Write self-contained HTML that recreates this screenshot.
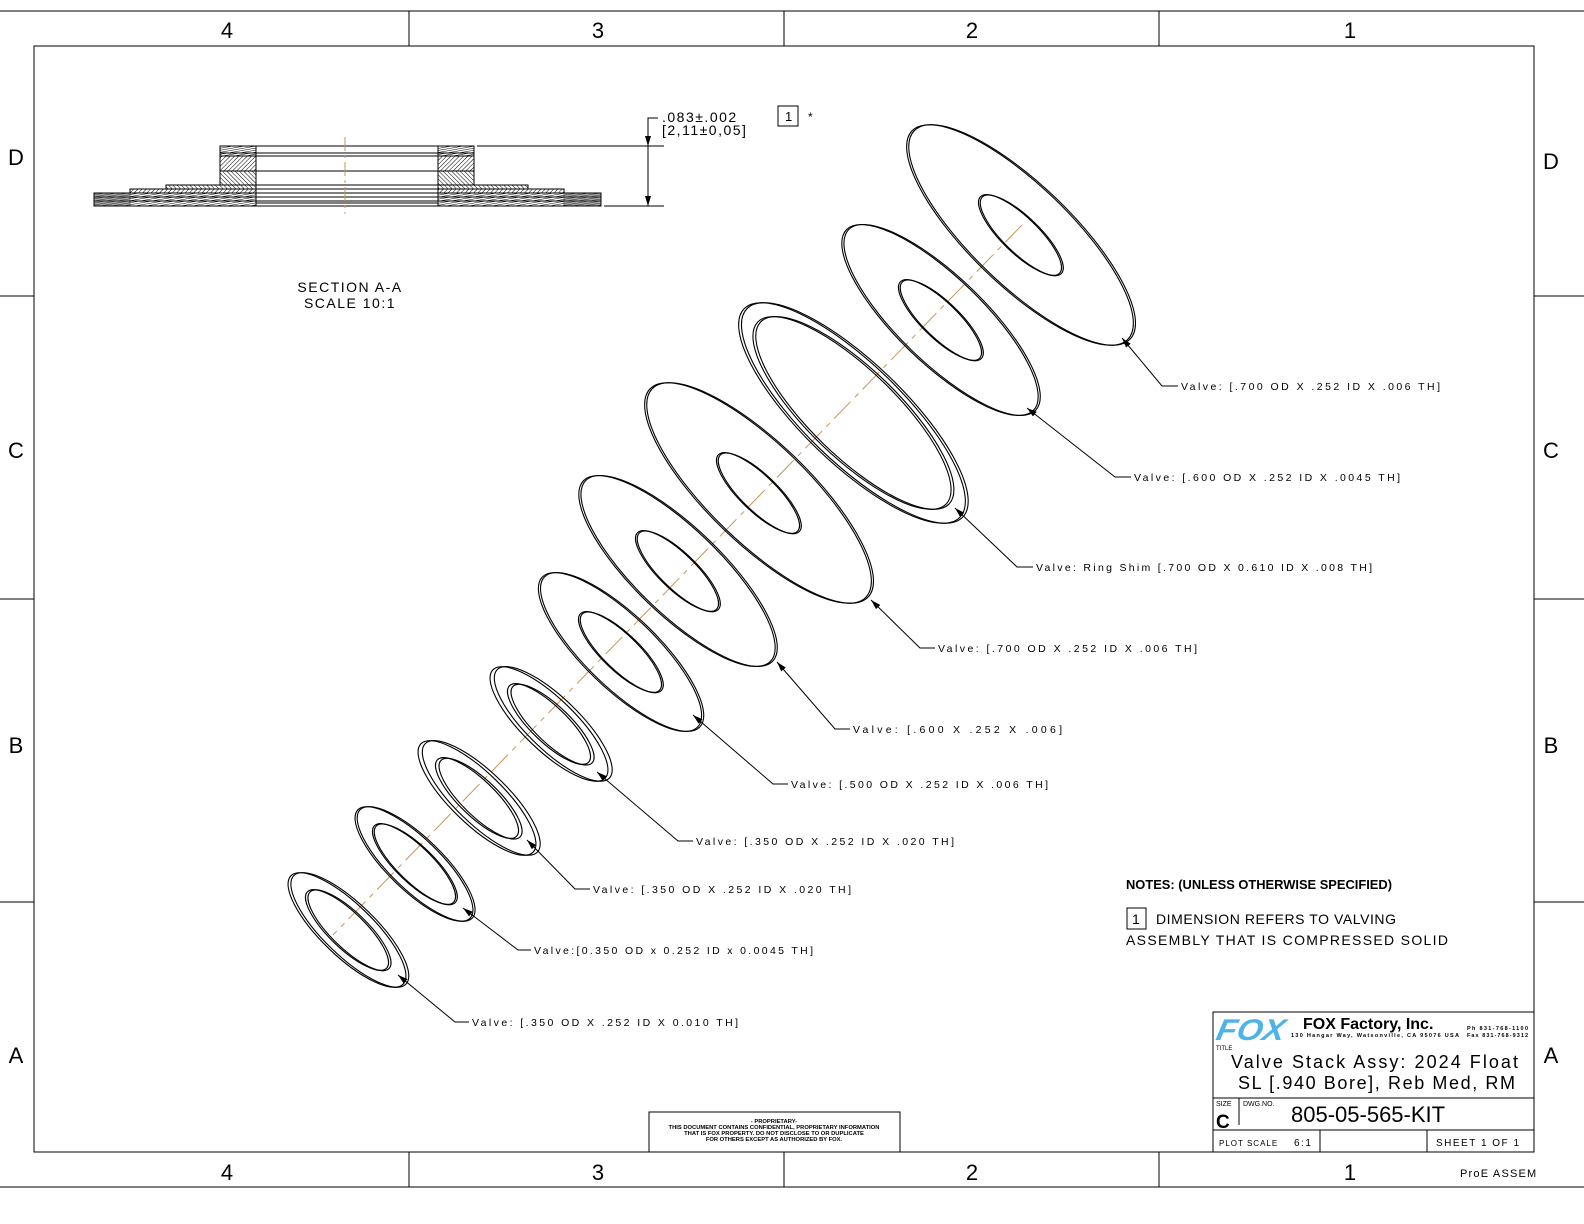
<!DOCTYPE html>
<html><head><meta charset="utf-8"><style>
html,body{margin:0;padding:0;background:#fff;}
svg{display:block;}
text{font-family:"Liberation Sans Narrow","Liberation Sans",sans-serif;fill:#000;}
</style></head><body>
<svg width="1584" height="1224" viewBox="0 0 1584 1224" xmlns="http://www.w3.org/2000/svg">
<defs>
<pattern id="h1" width="3" height="3" patternUnits="userSpaceOnUse" patternTransform="rotate(45)"><line x1="0" y1="0" x2="0" y2="3" stroke="#000" stroke-width="1"/></pattern>
<pattern id="h2" width="3" height="3" patternUnits="userSpaceOnUse" patternTransform="rotate(-45)"><line x1="0" y1="0" x2="0" y2="3" stroke="#000" stroke-width="1"/></pattern>
<pattern id="h3" width="2" height="2" patternUnits="userSpaceOnUse" patternTransform="rotate(80)"><line x1="0" y1="0" x2="0" y2="2" stroke="#000" stroke-width="1"/></pattern>
<marker id="ar" viewBox="0 0 10 6" refX="10" refY="3" markerWidth="10" markerHeight="6" orient="auto" markerUnits="userSpaceOnUse"><path d="M0,0 L10,3 L0,6 z" fill="#000"/></marker>
</defs>

<!-- frame -->
<g stroke="#000" stroke-width="1" fill="none">
<line x1="0" y1="11" x2="1584" y2="11"/>
<line x1="0" y1="1187" x2="1584" y2="1187"/>
<rect x="34" y="46" width="1500" height="1106"/>
<line x1="409" y1="11" x2="409" y2="46"/><line x1="784" y1="11" x2="784" y2="46"/><line x1="1159" y1="11" x2="1159" y2="46"/>
<line x1="409" y1="1152" x2="409" y2="1187"/><line x1="784" y1="1152" x2="784" y2="1187"/><line x1="1159" y1="1152" x2="1159" y2="1187"/>
<line x1="0" y1="296" x2="34" y2="296"/><line x1="0" y1="599" x2="34" y2="599"/><line x1="0" y1="902" x2="34" y2="902"/>
<line x1="1534" y1="296" x2="1584" y2="296"/><line x1="1534" y1="599" x2="1584" y2="599"/><line x1="1534" y1="902" x2="1584" y2="902"/>
</g>
<g font-size="22" text-anchor="middle">
<text x="227" y="38">4</text><text x="598" y="38">3</text><text x="972" y="38">2</text><text x="1350" y="38">1</text>
<text x="227" y="1180">4</text><text x="598" y="1180">3</text><text x="972" y="1180">2</text><text x="1350" y="1180">1</text>
<text x="16" y="165">D</text><text x="16" y="458">C</text><text x="16" y="753">B</text><text x="16" y="1063">A</text>
<text x="1551" y="169">D</text><text x="1551" y="458">C</text><text x="1551" y="753">B</text><text x="1551" y="1063">A</text>
</g>

<!-- Section A-A -->
<g stroke="#000" stroke-width="1">
<rect x="220" y="146" width="36" height="7" fill="url(#h3)"/><rect x="438" y="146" width="36" height="7" fill="url(#h3)"/>
<rect x="220" y="153" width="36" height="3" fill="url(#h3)"/><rect x="438" y="153" width="36" height="3" fill="url(#h3)"/>
<rect x="220" y="156" width="36" height="15" fill="url(#h1)"/><rect x="438" y="156" width="36" height="15" fill="url(#h1)"/>
<rect x="220" y="171" width="36" height="14" fill="url(#h2)"/><rect x="438" y="171" width="36" height="14" fill="url(#h2)"/>
<rect x="166" y="185" width="90" height="4" fill="url(#h2)"/><rect x="438" y="185" width="90" height="4" fill="url(#h2)"/>
<rect x="130" y="189" width="126" height="4" fill="url(#h1)"/><rect x="438" y="189" width="126" height="4" fill="url(#h1)"/>
<rect x="94" y="193" width="162" height="4" fill="url(#h3)"/><rect x="438" y="193" width="163" height="4" fill="url(#h3)"/>
<rect x="94" y="197" width="162" height="4" fill="url(#h3)"/><rect x="438" y="197" width="163" height="4" fill="url(#h3)"/>
<rect x="94" y="201" width="162" height="5" fill="url(#h3)"/><rect x="438" y="201" width="163" height="5" fill="url(#h3)"/>
<rect x="94" y="193" width="36" height="13" fill="#555" opacity="0.5"/><rect x="564" y="193" width="37" height="13" fill="#555" opacity="0.5"/>
<g fill="none">
<line x1="256" y1="146" x2="438" y2="146"/><line x1="256" y1="153" x2="438" y2="153"/><line x1="256" y1="156" x2="438" y2="156"/>
<line x1="256" y1="171" x2="438" y2="171"/><line x1="256" y1="185" x2="438" y2="185"/><line x1="256" y1="189" x2="438" y2="189"/>
<line x1="256" y1="193" x2="438" y2="193"/><line x1="256" y1="197" x2="438" y2="197"/><line x1="256" y1="201" x2="438" y2="201"/>
<line x1="256" y1="203" x2="438" y2="203"/><line x1="256" y1="206" x2="438" y2="206"/>
<line x1="477" y1="146" x2="664" y2="146"/><line x1="604" y1="206" x2="664" y2="206"/>
<line x1="648" y1="146" x2="648" y2="206" marker-start="url(#ar)" marker-end="url(#ar)"/>
<polyline points="648,148 648,118 658,118"/>
<rect x="778" y="106" width="20" height="20"/>
</g>
</g>
<line x1="345" y1="137" x2="345" y2="214" stroke="#c8955a" stroke-width="1" stroke-dasharray="14 4 3 4"/>
<g font-size="14" letter-spacing="1.5">
<text x="662" y="122">.083±.002</text>
<text x="662" y="135">[2,11±0,05]</text>
<text x="785" y="121" font-size="13">1</text>
<text x="808" y="121" font-size="12">*</text>
<text x="350" y="292" text-anchor="middle">SECTION A-A</text>
<text x="350" y="308" text-anchor="middle">SCALE 10:1</text>
</g>

<!-- axis -->
<line x1="1022" y1="225" x2="333" y2="935" stroke="#c8955a" stroke-width="1" stroke-dasharray="24 6 5 6"/>

<!-- shims -->
<g fill="none" stroke="#000" stroke-width="1.1">
<g transform="translate(1020,235) rotate(44)"><ellipse rx="150" ry="50"/><ellipse cx="1.5" cy="-1.5" rx="150" ry="50"/><ellipse rx="55" ry="18"/><ellipse cx="1.5" cy="-1" rx="55" ry="18"/></g>
<g transform="translate(940,320) rotate(44)"><ellipse rx="130" ry="43"/><ellipse cx="1.5" cy="-1.5" rx="130" ry="43"/><ellipse rx="55" ry="18"/><ellipse cx="1.5" cy="-1" rx="55" ry="18"/></g>
<g transform="translate(852,413) rotate(44)"><ellipse rx="150" ry="50"/><ellipse cx="2" cy="-2" rx="150" ry="50"/><ellipse rx="131" ry="44"/><ellipse cx="2" cy="-2" rx="131" ry="44"/></g>
<g transform="translate(758,493) rotate(44)"><ellipse rx="150" ry="50"/><ellipse cx="1.5" cy="-1.5" rx="150" ry="50"/><ellipse rx="55" ry="18"/><ellipse cx="1.5" cy="-1" rx="55" ry="18"/></g>
<g transform="translate(677,571) rotate(44)"><ellipse rx="130" ry="43"/><ellipse cx="1.5" cy="-1.5" rx="130" ry="43"/><ellipse rx="55" ry="18"/><ellipse cx="1.5" cy="-1" rx="55" ry="18"/></g>
<g transform="translate(620,652) rotate(44)"><ellipse rx="108" ry="36"/><ellipse cx="1.5" cy="-1.5" rx="108" ry="36"/><ellipse rx="55" ry="18"/><ellipse cx="1.5" cy="-1" rx="55" ry="18"/></g>
<g transform="translate(549,724) rotate(44)"><ellipse rx="78" ry="26"/><ellipse cx="3" cy="-3" rx="78" ry="26"/><ellipse rx="55" ry="18"/><ellipse cx="3" cy="-2" rx="55" ry="18"/></g>
<g transform="translate(477,798) rotate(44)"><ellipse rx="78" ry="26"/><ellipse cx="3" cy="-3" rx="78" ry="26"/><ellipse rx="55" ry="18"/><ellipse cx="3" cy="-2" rx="55" ry="18"/></g>
<g transform="translate(414,864) rotate(44)"><ellipse rx="78" ry="26"/><ellipse cx="1.5" cy="-1.5" rx="78" ry="26"/><ellipse rx="55" ry="18"/><ellipse cx="1.5" cy="-1" rx="55" ry="18"/></g>
<g transform="translate(347,930) rotate(44)"><ellipse rx="78" ry="26"/><ellipse cx="2" cy="-2" rx="78" ry="26"/><ellipse rx="55" ry="18"/><ellipse cx="2" cy="-1.5" rx="55" ry="18"/></g>
</g>

<!-- leaders -->
<g fill="none" stroke="#000" stroke-width="1">
<polyline points="1178,386 1162,386 1122,338" marker-end="url(#ar)"/>
<polyline points="1131,477 1115,477 1027,408" marker-end="url(#ar)"/>
<polyline points="1033,567 1017,567 955,508" marker-end="url(#ar)"/>
<polyline points="935,648 920,648 871,600" marker-end="url(#ar)"/>
<polyline points="850,729 835,729 777,662" marker-end="url(#ar)"/>
<polyline points="788,784 773,784 693,715" marker-end="url(#ar)"/>
<polyline points="693,841 678,841 597,772" marker-end="url(#ar)"/>
<polyline points="590,889 575,889 527,840" marker-end="url(#ar)"/>
<polyline points="531,950 518,950 463,908" marker-end="url(#ar)"/>
<polyline points="469,1022 455,1022 398,975" marker-end="url(#ar)"/>
</g>
<g font-size="10.5">
<text x="1181" y="390" textLength="259" lengthAdjust="spacing">Valve: [.700 OD X .252 ID X .006 TH]</text>
<text x="1134" y="481" textLength="266" lengthAdjust="spacing">Valve: [.600 OD X .252 ID X .0045 TH]</text>
<text x="1036" y="571" textLength="336" lengthAdjust="spacing">Valve: Ring Shim [.700 OD X 0.610 ID X .008 TH]</text>
<text x="938" y="652" textLength="259" lengthAdjust="spacing">Valve: [.700 OD X .252 ID X .006 TH]</text>
<text x="853" y="733" textLength="209" lengthAdjust="spacing">Valve: [.600 X .252 X .006]</text>
<text x="791" y="788" textLength="257" lengthAdjust="spacing">Valve: [.500 OD X .252 ID X .006 TH]</text>
<text x="696" y="845" textLength="258" lengthAdjust="spacing">Valve: [.350 OD X .252 ID X .020 TH]</text>
<text x="593" y="893" textLength="258" lengthAdjust="spacing">Valve: [.350 OD X .252 ID X .020 TH]</text>
<text x="534" y="954" textLength="279" lengthAdjust="spacing">Valve:[0.350 OD x 0.252 ID x 0.0045 TH]</text>
<text x="472" y="1026" textLength="266" lengthAdjust="spacing">Valve: [.350 OD X .252 ID X 0.010 TH]</text>
</g>

<!-- notes -->
<text x="1126" y="889" font-size="13" font-weight="bold" textLength="266" lengthAdjust="spacingAndGlyphs">NOTES: (UNLESS OTHERWISE SPECIFIED)</text>
<rect x="1127" y="908" width="19" height="21" fill="none" stroke="#000"/>
<text x="1132" y="924" font-size="14">1</text>
<text x="1156" y="924" font-size="14" textLength="240" lengthAdjust="spacing">DIMENSION REFERS TO VALVING</text>
<text x="1126" y="945" font-size="14" textLength="322" lengthAdjust="spacing">ASSEMBLY THAT IS COMPRESSED SOLID</text>

<!-- proprietary -->
<rect x="649" y="1112" width="251" height="40" fill="none" stroke="#000"/>
<g font-size="5.8" font-weight="bold" text-anchor="middle">
<text x="774" y="1123">- PROPRIETARY-</text>
<text x="774" y="1129">THIS DOCUMENT CONTAINS CONFIDENTIAL, PROPRIETARY INFORMATION</text>
<text x="774" y="1135">THAT IS FOX PROPERTY.  DO NOT DISCLOSE TO OR DUPLICATE</text>
<text x="774" y="1141">FOR OTHERS EXCEPT AS AUTHORIZED BY FOX.</text>
</g>

<!-- title block -->
<g stroke="#000" stroke-width="1" fill="none">
<polyline points="1213,1152 1213,1012 1534,1012"/>
<line x1="1213" y1="1098" x2="1534" y2="1098"/>
<line x1="1213" y1="1130" x2="1534" y2="1130"/>
<line x1="1239" y1="1098" x2="1239" y2="1125"/>
<line x1="1320" y1="1130" x2="1320" y2="1152"/>
<line x1="1427" y1="1130" x2="1427" y2="1152"/>
</g>
<text x="1214" y="1040" font-size="30" font-weight="bold" font-style="italic" style="fill:#4fb3e8" transform="skewX(-12) translate(222,0)" textLength="68" lengthAdjust="spacingAndGlyphs">FOX</text>
<text x="1303" y="1029" font-size="16" font-weight="bold" style="font-family:'Liberation Sans',sans-serif">FOX  Factory,  Inc.</text>
<text x="1291" y="1037" font-size="5.5" font-weight="bold" textLength="168" lengthAdjust="spacing">130 Hangar Way, Watsonville, CA 95076 USA</text>
<text x="1467" y="1030" font-size="5.5" font-weight="bold" textLength="61" lengthAdjust="spacing">Ph 831-768-1100</text>
<text x="1467" y="1037" font-size="5.5" font-weight="bold" textLength="61" lengthAdjust="spacing">Fax 831-768-9312</text>
<text x="1216" y="1050" font-size="6">TITLE</text>
<text x="1231" y="1068" font-size="18" textLength="287" lengthAdjust="spacing">Valve Stack Assy: 2024 Float</text>
<text x="1238" y="1089" font-size="18" textLength="277" lengthAdjust="spacing">SL [.940 Bore], Reb Med, RM</text>
<text x="1216" y="1106" font-size="7">SIZE</text>
<text x="1243" y="1106" font-size="7">DWG.NO.</text>
<text x="1216" y="1128" font-size="19" font-weight="bold" style="font-family:'Liberation Sans',sans-serif">C</text>
<text x="1291" y="1122" font-size="22" style="font-family:'Liberation Sans',sans-serif">805-05-565-KIT</text>
<text x="1219" y="1146" font-size="8" letter-spacing="1">PLOT SCALE</text>
<text x="1294" y="1146" font-size="10" letter-spacing="1.5">6:1</text>
<text x="1436" y="1146" font-size="10" letter-spacing="1.5">SHEET 1 OF 1</text>
<text x="1460" y="1177" font-size="11" letter-spacing="1.2">ProE ASSEM</text>
</svg>
</body></html>
